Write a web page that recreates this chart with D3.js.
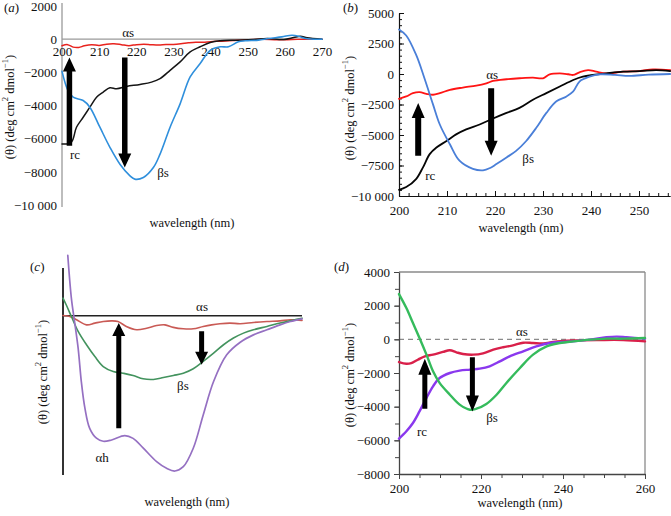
<!DOCTYPE html>
<html><head><meta charset="utf-8">
<script src="https://cdn.jsdelivr.net/npm/d3@7"></script>
<style>body{margin:0;background:#fff} svg text{font-family:"Liberation Serif","Times New Roman",serif !important;}</style>
</head><body>
<svg id="chart" width="671" height="516"></svg>
<script>
// ---------- Panel (a) ----------
const aXTicks = [200,210,220,230,240,250,260,270];
const aYTicks = [2000,0,-2000,-4000,-6000,-8000,-10000];
const aBetaS = [[200,-1940],[201.6,-3090],[203,-3500],[205.7,-3700],[207.5,-4100],[210.2,-5310],[212.9,-6520],[215.6,-7540],[218.3,-8240],[219.6,-8440],[221.9,-8340],[224.6,-7740],[226.4,-6930],[229.1,-5310],[231.8,-3900],[234.5,-2280],[237.2,-1470],[239.9,-670],[242.6,-460],[244.8,-460],[247.5,-160],[249.3,-100],[252.9,-60],[255.6,40],[259.2,140],[261.9,240],[263.7,180],[265.5,40],[270,0]];
const aRc = [[200,-6320],[202.5,-6220],[203.9,-5310],[205.7,-4710],[207.5,-4100],[209.3,-3500],[211.1,-3190],[212.9,-2930],[214.7,-2990],[217.4,-2850],[221,-2730],[224.1,-2590],[226.4,-2380],[229.1,-1880],[231.8,-1370],[234.5,-770],[237.2,-460],[239.9,-200],[242.6,-100],[246.2,-60],[251.6,-20],[255.2,40],[259.7,-20],[262.4,100],[264.2,180],[266,80],[270,0]];
const aAlphaS = [[200,-400],[201.5,-330],[203,-480],[204.5,-500],[206,-400],[208,-330],[210,-380],[212,-300],[214,-280],[216,-330],[218,-390],[220,-330],[222,-300],[224,-330],[226,-350],[228,-320],[230,-320],[232,-280],[234,-220],[236,-180],[238,-190],[240,-150],[243,-120],[246,-80],[250,-30],[254,-10],[258,-40],[262,-20],[266,0],[270,0]];
const aArrows = [{x:202,from:-6420,to:-1110},{x:216.9,from:-1110,to:-7740}];
const aLabels = [{t:"αs",x:217.8,y:424},{t:"rc",x:203.5,y:-6970},{t:"βs",x:227.2,y:-8060}];

// ---------- Panel (b) ----------
const bXTicks = [200,210,220,230,240,250];
const bYTicks = [5000,2500,0,-2500,-5000,-7500,-10000];
const bBetaS = [[200,3650],[201.5,3160],[203.6,1540],[205.3,-350],[207.1,-2510],[208.5,-4140],[210.6,-5760],[212.6,-7110],[215.4,-7780],[217.5,-7900],[219,-7700],[220.3,-7380],[222.4,-6840],[224.4,-6300],[226.5,-5490],[228.6,-4410],[230.7,-3190],[232.8,-2240],[234.9,-1840],[236.3,-1430],[237.6,-620],[239.7,-220],[241.8,-30],[245,-80],[248,-160],[252,-50],[256.5,0]];
const bRc = [[200,-9490],[201.5,-9270],[203.6,-8590],[205,-7650],[206.4,-6570],[207.8,-6030],[209.9,-5490],[211.9,-4950],[214,-4540],[216.8,-4140],[219.6,-3650],[222.4,-3190],[225.1,-2780],[227.9,-2110],[230.7,-1570],[233.5,-1030],[236.3,-490],[238.3,-220],[240.4,-80],[243.2,50],[246.7,190],[250.1,240],[253.6,320],[256.5,240]];
const bAlphaS = [[200,-2030],[201.5,-1840],[202.9,-1570],[204.3,-1490],[205.7,-1620],[207.1,-1700],[208.5,-1570],[210.6,-1300],[213.3,-1110],[216.1,-950],[218.2,-760],[219.6,-570],[222.4,-430],[225.1,-350],[227.9,-300],[230,-350],[231.4,-30],[233.5,50],[235.3,-20],[236.3,-80],[237.6,140],[239.4,320],[241.1,190],[243.2,50],[246.7,190],[250.1,240],[252.9,380],[256.5,320]];
const bArrows = [{x:204,from:-6700,to:-2380},{x:219.2,from:-1160,to:-6700}];
const bLabels = [{t:"αs",x:219.4,y:0},{t:"rc",x:206.5,y:-8280},{t:"βs",x:226.9,y:-6890}];

// ---------- Panel (c) (no numeric scale shown) ----------
const cAlphaH = [[201.2,3800],[202.1,1110],[202.9,-360],[203.8,-2030],[204.6,-4130],[205.5,-5800],[206.7,-7070],[208.4,-7690],[210.1,-7880],[212.2,-7800],[215.5,-7530],[217.6,-7700],[220.1,-8300],[223.5,-9160],[226,-9580],[228.1,-9750],[230.2,-9480],[232.7,-8320],[235.2,-6230],[237.8,-4130],[241.1,-2450],[244.5,-1660],[247.8,-1200],[251.2,-880],[254.5,-570],[257.1,-360],[260,-190]];
const cBetaS = [[200,1110],[200.8,690],[202.1,-40],[203.8,-980],[205.9,-1820],[208,-2560],[210.1,-3190],[212.6,-3500],[215.1,-3610],[217.6,-3750],[220.1,-3960],[222.7,-4000],[225.2,-3880],[227.7,-3750],[230.2,-3610],[232.7,-3330],[235.2,-2870],[237.8,-2350],[240.3,-1820],[242.8,-1400],[245.3,-1090],[247.8,-880],[251.2,-670],[254.5,-460],[257.9,-270],[260,-150]];
const cAlphaS = [[200,20],[201.7,-40],[203.4,-250],[205.9,-570],[208,-460],[210.1,-360],[212.2,-320],[213.8,-360],[215.9,-670],[218.5,-880],[221,-780],[223.5,-610],[225.6,-570],[227.7,-730],[230.2,-820],[232.7,-820],[235.2,-670],[237.3,-570],[239.4,-500],[241.9,-460],[244.5,-500],[247.8,-420],[251.2,-360],[254.5,-320],[257.1,-250],[260,-290]];
const cArrows = [{x:214,from:-7070,to:-460},{x:234.8,from:-980,to:-3080}];
const cLabels = [{t:"αs",x:234.9,y:551},{t:"βs",x:230.1,y:-4410},{t:"αh",x:209.8,y:-8870}];

// ---------- Panel (d) ----------
const dXTicks = [200,220,240,260];
const dYTicks = [4000,2000,0,-2000,-4000,-6000,-8000];
const dBetaS = [[200,2690],[201.8,1860],[203.4,970],[205,80],[206.7,-910],[208.3,-1900],[209.9,-2590],[212.4,-3290],[214.8,-3880],[217.3,-4180],[218.9,-4120],[221.3,-3840],[223.8,-3290],[226.2,-2590],[229.5,-1700],[232.7,-910],[236,-420],[239.2,-220],[242.5,-120],[246.6,-20],[250.6,40],[254.7,40],[260,80]];
const dRc = [[200,-5900],[201.8,-5460],[203.4,-4970],[205,-4280],[206.7,-3480],[208.3,-2790],[209.9,-2300],[212.4,-2000],[214.8,-1860],[217.3,-1800],[219.7,-1740],[222.1,-1600],[224.6,-1310],[227,-1010],[230.3,-710],[233.5,-420],[236.8,-220],[240.1,-160],[242.5,-120],[246.6,-20],[250.6,120],[253.1,160],[255.5,120],[260,40]];
const dAlphaS = [[200,-1350],[201.8,-1450],[203,-1410],[204.6,-1210],[206.3,-1010],[208.3,-910],[210.7,-750],[212.4,-650],[214,-770],[215.6,-870],[218.1,-910],[220.5,-830],[223,-610],[225.4,-470],[227.8,-360],[230.3,-200],[232.7,-220],[235.2,-240],[237.6,-160],[240.9,-80],[244.1,-60],[249,-40],[254.7,-40],[260,-120]];
const dArrows = [{x:206.3,from:-4120,to:-1150},{x:217.9,from:-1070,to:-4280}];
const dLabels = [{t:"αs",x:230,y:494},{t:"rc",x:205.6,y:-5450},{t:"βs",x:222.7,y:-4620}];

// ---------- drawing ----------
const FONT = "Liberation Serif, Times New Roman, serif";
const svg = d3.select("#chart");
svg.append("rect").attr("width",671).attr("height",516).attr("fill","#fff");

function fmtVal(v){
  const a = Math.abs(v);
  let s = a >= 10000 ? String(a).replace(/(\d)(\d{3})$/, "$1 $2") : String(a);
  return (v < 0 ? "\u2212" : "") + s;
}
function curve(g, data, x, y, color, w){
  g.append("path").datum(data)
    .attr("fill","none").attr("stroke",color).attr("stroke-width",w)
    .attr("stroke-linejoin","round").attr("stroke-linecap","round")
    .attr("d", d3.line().x(d=>x(d[0])).y(d=>y(d[1])).curve(d3.curveCatmullRom.alpha(0.5)));
}
function arrows(g, arr, x, y, sw, hw, hl){
  arr.forEach(a=>{
    const cx = x(a.x), y0 = y(a.from), y1 = y(a.to);
    const s = y1 < y0 ? -1 : 1;
    const yb = y1 - s*hl;
    const p = d3.path();
    p.moveTo(cx-sw/2,y0); p.lineTo(cx-sw/2,yb); p.lineTo(cx-hw/2,yb); p.lineTo(cx,y1);
    p.lineTo(cx+hw/2,yb); p.lineTo(cx+sw/2,yb); p.lineTo(cx+sw/2,y0); p.closePath();
    g.append("path").attr("d",p.toString()).attr("fill","#000");
  });
}
function labels(g, arr, x, y){
  arr.forEach(l=>{
    g.append("text").attr("x",x(l.x)).attr("y",y(l.y)).attr("text-anchor","middle")
      .attr("dominant-baseline","central").attr("font-family",FONT).attr("font-size",13)
      .attr("fill","#111").text(l.t);
  });
}
function yTitle(cx, cy){
  const t = svg.append("text").attr("transform",`translate(${cx},${cy}) rotate(-90)`)
    .attr("text-anchor","middle").attr("dominant-baseline","central")
    .attr("font-family",FONT).attr("font-size",12.5).attr("fill","#111");
  t.append("tspan").text("(θ) (deg cm");
  t.append("tspan").attr("dy",-5).attr("font-size",8.5).text("2");
  t.append("tspan").attr("dy",5).text(" dmol");
  t.append("tspan").attr("dy",-5).attr("font-size",8.5).text("\u22121");
  t.append("tspan").attr("dy",5).text(")");
}
function xTitle(cx, cy){
  svg.append("text").attr("x",cx).attr("y",cy).attr("text-anchor","middle")
    .attr("dominant-baseline","central").attr("font-family",FONT).attr("font-size",12.5)
    .attr("fill","#111").text("wavelength (nm)");
}
function panelLabel(px, py, letter){
  const t = svg.append("text").attr("x",px).attr("y",py).attr("font-family",FONT)
    .attr("font-size",13).attr("fill","#111");
  t.append("tspan").text("(");
  t.append("tspan").attr("font-style","italic").text(letter);
  t.append("tspan").text(")");
}
function styleAxis(g){
  g.attr("font-family",FONT);
  g.selectAll("text").attr("font-family",FONT).attr("font-size",13).attr("fill","#111");
}

// Panel a
(function(){
  const x = d3.scaleLinear().domain([200,270]).range([62,322]);
  const y = d3.scaleLinear().domain([-10000,2000]).range([205,6]);
  const g = svg.append("g");
  g.append("line").attr("x1",x(200)).attr("x2",x(200)).attr("y1",3).attr("y2",207).attr("stroke","#9a9a9a").attr("stroke-width",1.3);
  g.append("line").attr("x1",x(200)).attr("x2",x(270)).attr("y1",y(0)).attr("y2",y(0)).attr("stroke","#9a9a9a").attr("stroke-width",1.3);
  const ay = g.append("g").attr("transform",`translate(${x(200)},0)`)
    .call(d3.axisLeft(y).tickValues(aYTicks).tickSize(0).tickPadding(5).tickFormat(fmtVal));
  ay.select(".domain").remove(); styleAxis(ay);
  const ax = g.append("g").attr("transform",`translate(0,${y(0)})`)
    .call(d3.axisBottom(x).tickValues(aXTicks).tickSize(0).tickPadding(8).tickFormat(d3.format("d")));
  ax.select(".domain").remove(); styleAxis(ax);
  curve(g, aAlphaS, x, y, "#e8231e", 1.5);
  curve(g, aRc, x, y, "#151515", 1.5);
  curve(g, aBetaS, x, y, "#2f8fdc", 1.6);
  arrows(g, aArrows, x, y, 5.5, 13, 14);
  labels(g, aLabels, x, y);
  yTitle(10,107); xTitle(192,223); panelLabel(4,12,"a");
})();

// Panel b
(function(){
  const x = d3.scaleLinear().domain([200,250]).range([399,639]);
  const y = d3.scaleLinear().domain([-10000,5000]).range([196,13]);
  const g = svg.append("g");
  const xMax = 256.5;
  const minorY = d3.range(-10000,5001,500);
  const minorX = d3.range(200,xMax,2);
  const my = g.append("g").attr("transform",`translate(${x(200)},0)`)
    .call(d3.axisLeft(y).tickValues(minorY).tickSize(-3).tickFormat(""));
  my.select(".domain").remove();
  const mx = g.append("g").attr("transform",`translate(0,${y(-10000)})`)
    .call(d3.axisBottom(x).tickValues(minorX).tickSize(-3).tickFormat(""));
  mx.select(".domain").remove();
  const ay = g.append("g").attr("transform",`translate(${x(200)},0)`)
    .call(d3.axisLeft(y).tickValues(bYTicks).tickSize(-5).tickSizeOuter(0).tickPadding(5).tickFormat(fmtVal));
  styleAxis(ay);
  const ax = g.append("g").attr("transform",`translate(0,${y(-10000)})`)
    .call(d3.axisBottom(x.copy().domain([200,xMax]).range([399, x(xMax)])).tickValues(bXTicks).tickSize(-5).tickSizeOuter(0).tickPadding(10).tickFormat(d3.format("d")));
  styleAxis(ax);
  g.selectAll(".tick line").attr("stroke","#111");
  g.selectAll(".domain").attr("stroke","#111").attr("stroke-width",1.2);
  curve(g, bAlphaS, x, y, "#ff1414", 1.8);
  curve(g, bRc, x, y, "#050505", 1.8);
  curve(g, bBetaS, x, y, "#4a7fd8", 1.8);
  arrows(g, bArrows, x, y, 6, 13, 15);
  labels(g, bLabels, x, y);
  yTitle(350,108); xTitle(521,228); panelLabel(343,12,"b");
})();

// Panel c
(function(){
  const x = d3.scaleLinear().domain([200,260]).range([63,302]);
  const y = d3.scaleLinear().domain([-10000,3000]).range([475,268]);
  const g = svg.append("g");
  g.append("line").attr("x1",x(200)).attr("x2",x(260)).attr("y1",y(0)).attr("y2",y(0)).attr("stroke","#222").attr("stroke-width",1.6);
  g.append("line").attr("x1",x(200)).attr("x2",x(200)).attr("y1",268).attr("y2",475).attr("stroke","#333").attr("stroke-width",2);
  curve(g, cAlphaS, x, y, "#c95a55", 1.6);
  curve(g, cBetaS, x, y, "#43935e", 1.6);
  curve(g, cAlphaH, x, y, "#9570c2", 1.7);
  arrows(g, cArrows, x, y, 5, 13, 13);
  labels(g, cLabels, x, y);
  yTitle(43,372); xTitle(187,502); panelLabel(30,271,"c");
})();

// Panel d
(function(){
  const x = d3.scaleLinear().domain([200,260]).range([399,645]);
  const y = d3.scaleLinear().domain([-8000,4000]).range([474,272]);
  const g = svg.append("g");
  g.append("line").attr("x1",x(200)).attr("x2",x(260)).attr("y1",y(4000)).attr("y2",y(4000)).attr("stroke","#8a8a8a").attr("stroke-width",1.3);
  g.append("line").attr("x1",x(260)).attr("x2",x(260)).attr("y1",y(4000)).attr("y2",y(-8000)).attr("stroke","#8a8a8a").attr("stroke-width",1.3);
  g.append("line").attr("x1",x(200)).attr("x2",x(260)).attr("y1",y(0)).attr("y2",y(0)).attr("stroke","#8a8a8a").attr("stroke-width",1.2).attr("stroke-dasharray","5,4");
  const my = g.append("g").attr("transform",`translate(${x(200)},0)`)
    .call(d3.axisLeft(y).tickValues(d3.range(-8000,4001,1000)).tickSize(4).tickFormat(""));
  my.select(".domain").remove();
  const mx = g.append("g").attr("transform",`translate(0,${y(-8000)})`)
    .call(d3.axisBottom(x).tickValues(d3.range(200,261,5)).tickSize(4).tickFormat(""));
  mx.select(".domain").remove();
  const ay = g.append("g").attr("transform",`translate(${x(200)},0)`)
    .call(d3.axisLeft(y).tickValues(dYTicks).tickSize(5).tickSizeOuter(0).tickPadding(4).tickFormat(fmtVal));
  styleAxis(ay);
  const ax = g.append("g").attr("transform",`translate(0,${y(-8000)})`)
    .call(d3.axisBottom(x).tickValues(dXTicks).tickSize(5).tickSizeOuter(0).tickPadding(5).tickFormat(d3.format("d")));
  styleAxis(ax);
  g.selectAll(".tick line").attr("stroke","#444");
  g.selectAll(".domain").attr("stroke","#444").attr("stroke-width",1.3);
  curve(g, dAlphaS, x, y, "#d9204a", 2.4);
  curve(g, dRc, x, y, "#8a38ee", 2.4);
  curve(g, dBetaS, x, y, "#35bb5c", 2.4);
  arrows(g, dArrows, x, y, 5, 13, 16);
  labels(g, dLabels, x, y);
  yTitle(350,375); xTitle(520,503); panelLabel(334,271,"d");
})();
</script>
</body></html>
